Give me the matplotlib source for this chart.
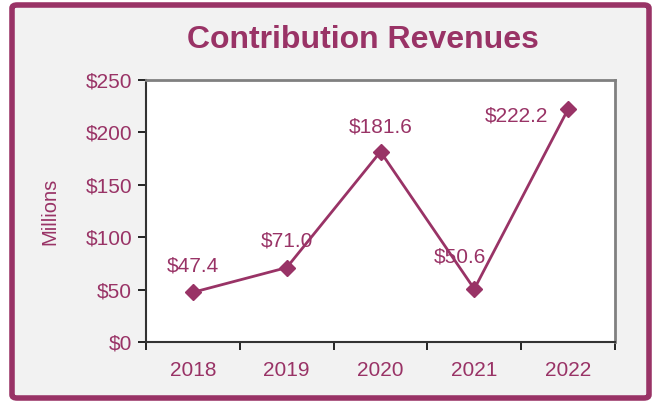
import matplotlib.pyplot as plt
from matplotlib.patches import FancyBboxPatch
from matplotlib.ticker import FixedLocator, NullFormatter

plt.rcParams["font.family"] = ["Liberation Sans", "DejaVu Sans"]

# Datos
years = ["2018", "2019", "2020", "2021", "2022"]
revenues = [47.4, 71.0, 181.6, 50.6, 222.2]
y_ticks = [0, 50, 100, 150, 200, 250]

# offsets de las etiquetas (px)
label_offsets = [(0, 19), (0, 19), (0, 18), (-10, 23), (-37, -5)]

PURPLE = "#993366"
BG = "#f2f2f2"

fig = plt.figure(figsize=(6.54, 4.03), dpi=100)
fig.patch.set_facecolor("white")

# Marco exterior
frame = FancyBboxPatch((12 / 654, 5 / 403), 637 / 654, 393 / 403,
                       boxstyle="round,pad=0,rounding_size=0.008",
                       transform=fig.transFigure, facecolor=BG,
                       edgecolor=PURPLE, linewidth=4, zorder=-10)
fig.patches.append(frame)

ax = fig.add_axes([146 / 654, 1 - 342 / 403, 469 / 654, 262 / 403])
ax.set_zorder(5)
ax.set_facecolor("white")

x = range(len(years))
ax.plot(x, revenues, color=PURPLE, linewidth=2, marker="D", markersize=8,
        markerfacecolor=PURPLE, markeredgecolor=PURPLE)

for i, v in enumerate(revenues):
    dx, dy = label_offsets[i]
    ax.annotate(f"${v:.1f}", (i, v), xytext=(dx, dy), textcoords="offset points",
                ha="center", va="center", fontsize=15, color=PURPLE)

ax.set_xlim(-0.5, len(years) - 0.5)
ax.set_ylim(0, 250)
ax.set_yticks(y_ticks)
ax.set_yticklabels([f"${t}" for t in y_ticks])

# ticks entre categorias, etiquetas centradas
ax.xaxis.set_major_locator(FixedLocator([i - 0.5 for i in range(len(years) + 1)]))
ax.xaxis.set_major_formatter(NullFormatter())
ax.set_xticks(list(x), minor=True)
ax.set_xticklabels(years, minor=True)
ax.tick_params(axis="x", which="minor", length=0, pad=14, labelsize=15, labelcolor=PURPLE)
ax.tick_params(axis="x", which="major", length=6, width=1.2, direction="out")
ax.tick_params(axis="y", length=6, width=1.2, direction="out", labelsize=15,
               labelcolor=PURPLE, pad=4)

for side in ["top", "right"]:
    ax.spines[side].set_color("#808080")
    ax.spines[side].set_linewidth(2)
for side in ["left", "bottom"]:
    ax.spines[side].set_color("#333333")
    ax.spines[side].set_linewidth(1.5)

ax.set_ylabel("Millions", fontsize=14.5, color=PURPLE, labelpad=19)

fig.text(363 / 654, 1 - 40 / 403, "Contribution Revenues", ha="center", va="center",
         fontsize=23, fontweight="bold", color=PURPLE)

plt.savefig("out.png", dpi=100, facecolor=fig.get_facecolor())
plt.close()
